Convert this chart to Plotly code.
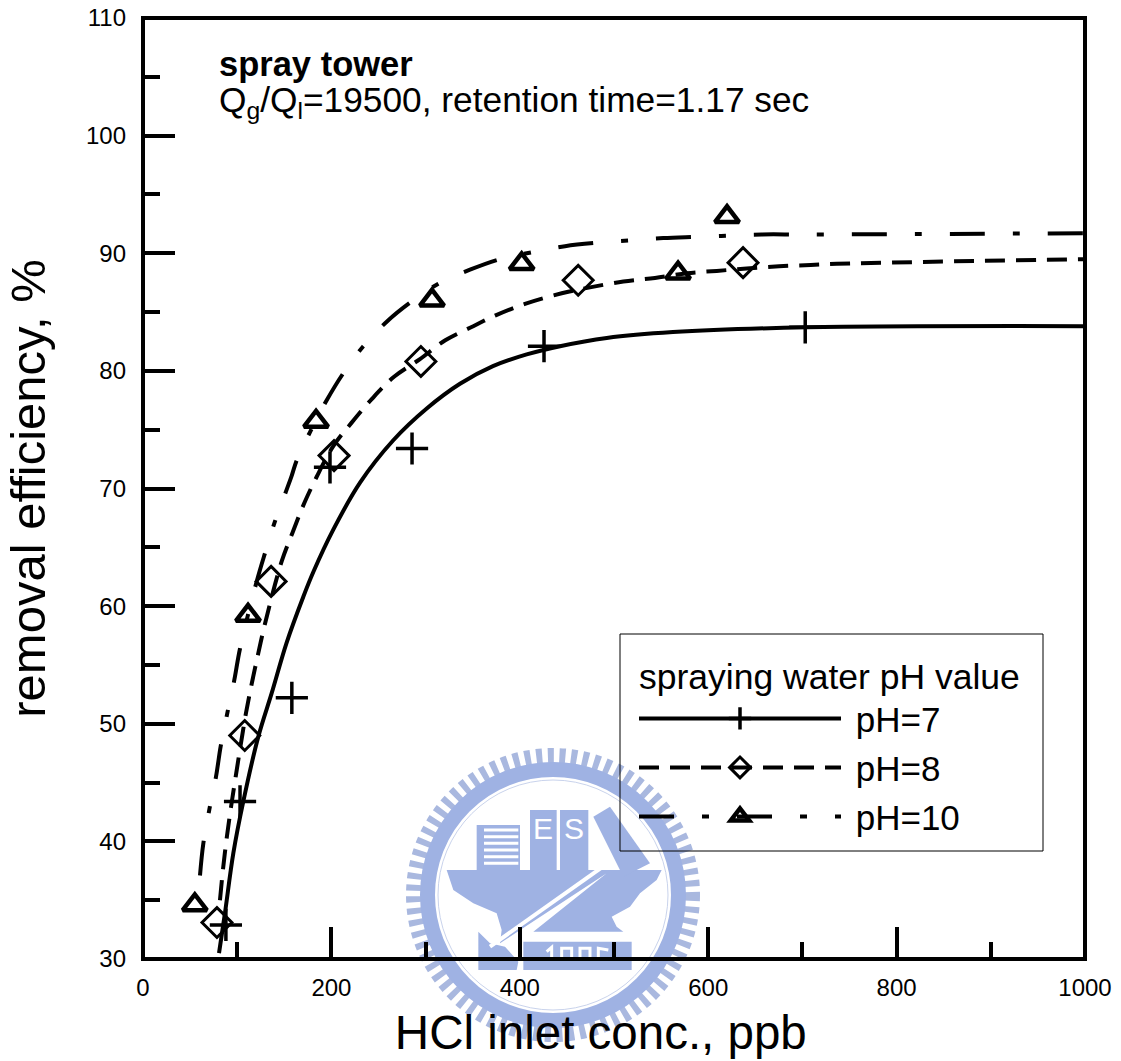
import plotly.graph_objects as go

# marker readings
ph7_x = [88, 103, 158, 198.5, 285.6, 425.7, 703]
ph7_y = [32.9, 43.4, 52.2, 71.8, 73.4, 82.1, 83.7]
ph8_x = [78.5, 108, 136, 202.8, 295, 462, 637]
ph8_y = [33.1, 49, 62.1, 72.8, 80.8, 87.7, 89.2]
ph10_x = [55, 111.5, 183.7, 306.8, 402, 568, 620]
ph10_y = [34.6, 59.2, 75.7, 86, 89.1, 88.3, 93.1]

# curves
c7_x = [80.7, 87, 95.9, 106.5, 122.4, 136.6, 152.5, 170.2, 180.8, 202, 230.4, 265.7, 301.2, 336.5, 371.5, 407.3, 442.7, 492.3, 562.6, 704.6, 1000]
c7_y = [30.5, 33.9, 39, 43.4, 48.9, 52.6, 56.9, 60.8, 62.9, 66.5, 70.5, 74.1, 76.8, 78.9, 80.4, 81.4, 82.1, 82.8, 83.3, 83.7, 83.8]
c8_x = [81.7, 84.9, 88.9, 93.4, 98.4, 103.7, 109.3, 115.4, 122.4, 129.5, 147.2, 158.5, 170.9, 184.4, 202, 221.5, 242.8, 266.5, 294, 320.9, 350.6, 373.7, 405.5, 444.5, 474.5, 509.9, 543.5, 577.2, 609, 640.9, 675.2, 708.8, 736.4, 1000]
c8_y = [35, 37.6, 40.3, 42.9, 45.5, 48.2, 50.9, 53.4, 56, 58.5, 63.8, 66.2, 68.7, 71, 73.6, 75.6, 77.6, 79.5, 81, 82.6, 83.8, 84.7, 85.7, 86.6, 87.1, 87.6, 87.9, 88.3, 88.5, 88.7, 88.9, 89, 89.1, 89.5]
c10_x = [60.5, 64, 70.4, 77.5, 82.5, 89.5, 96.9, 103, 120.7, 129.5, 140.1, 152.5, 157.9, 163.2, 177.3, 195, 212.6, 233.9, 259, 285.2, 313.5, 347.1, 379, 414.3, 448, 483.3, 517.7, 552.3, 587.8, 622.4, 656.8, 693.2, 727.5, 1000]
c10_y = [37.1, 39.8, 42.7, 45.5, 48.1, 50.9, 53.7, 56.4, 62.1, 64.5, 67.2, 69.9, 71.1, 72.4, 74.8, 77.5, 79.8, 82.1, 84.2, 85.9, 87.4, 88.6, 89.5, 90.1, 90.6, 90.9, 91.1, 91.3, 91.4, 91.5, 91.6, 91.6, 91.6, 91.7]

x_ticks = [0, 200, 400, 600, 800, 1000]
y_ticks = [30, 40, 50, 60, 70, 80, 90, 100, 110]

FONT = "Liberation Sans"
W, H = 1121, 1061
L, R, T, B = 143, 1085, 18, 959
SEAL = "#9FB2E3"


def gapped(v):
    out = []
    for a in v:
        out += [a, None]
    return out


def fx(p):
    return (p - L) / (R - L)


def fy(p):
    return (B - p) / (B - T)


def px(zx, zy):
    return fx(zx / 3 + 390), fy(zy / 3 + 730)


def poly(points, fill=SEAL, close=True, line=None, width=0):
    s = ""
    for i, (a, b) in enumerate(points):
        u, v = px(a, b)
        s += ("M" if i == 0 else "L") + f"{u:.5f},{v:.5f} "
    if close:
        s += "Z"
    return dict(type="path", xref="paper", yref="paper", path=s, layer="below",
                fillcolor=fill if close else "rgba(0,0,0,0)",
                line=dict(color=line or fill, width=width))


def ring(r, width, color, dash="solid"):
    return dict(type="circle", xref="paper", yref="paper", x0=fx(553 - r), x1=fx(553 + r),
                y0=fy(895 + r), y1=fy(895 - r), layer="below",
                line=dict(color=color, width=width, dash=dash))


shapes = [
    ring(139, 16, "#A9B8DF", "6px,5.6px"),
    ring(125.5, 15, SEAL),
    ring(115, 1, "#C9D3EC"),
    # hull
    poly([(170, 420), (815, 420), (800, 450), (750, 490), (720, 530), (665, 560), (680, 590), (700, 605),
          (430, 605), (650, 430), (330, 640), (335, 600), (320, 550), (250, 520), (190, 480)]),
    # lower block
    poly([(400, 635), (725, 635), (725, 720), (400, 720)]),
    poly([(265, 605), (300, 640), (345, 650), (385, 695), (380, 720), (265, 720)]),
    # buildings
    poly([(260, 285), (390, 285), (390, 420), (260, 420)]),
    poly([(420, 240), (500, 240), (500, 420), (420, 420)]),
    poly([(510, 240), (595, 240), (595, 420), (510, 420)]),
    poly([(610, 260), (660, 230), (780, 400), (700, 440)]),
    # diagonal white bar
    poly([(660, 395), (300, 650)], close=False, line="white", width=4),
]
for zy in (300, 320, 340, 360, 380, 400):
    shapes.append(poly([(282, zy), (385, zy)], close=False, line="white", width=3))
# tops of the seal's year digits, cut by the axis line
for seg in ([(470, 665), (485, 652), (485, 685)],
            [(515, 685), (515, 655), (545, 655), (545, 685)],
            [(570, 685), (570, 655), (600, 655), (600, 685)],
            [(655, 660), (625, 655), (625, 685)]):
    shapes.append(poly(seg, close=False, line="white", width=3))
# frame and legend box
shapes.append(dict(type="rect", xref="paper", yref="paper", x0=0, x1=1, y0=0, y1=1, layer="above",
                   line=dict(color="black", width=4)))
shapes.append(dict(type="rect", xref="paper", yref="paper", x0=fx(620), x1=fx(1043), y0=fy(851), y1=fy(634),
                   layer="above", line=dict(color="black", width=1)))

fig = go.Figure()
for cx, cy, dash in [(c7_x, c7_y, "solid"), (c8_x, c8_y, "20px,11px"), (c10_x, c10_y, "35px,28px,7px,28px")]:
    fig.add_trace(go.Scatter(x=cx, y=cy, mode="lines", showlegend=False, cliponaxis=True,
                             line=dict(color="black", width=4, dash=dash, shape="spline", smoothing=1)))

specs = [
    ("&nbsp;pH=7", ph7_x, ph7_y, "cross-thin", 23, 3.5, "solid"),
    ("&nbsp;pH=8", ph8_x, ph8_y, "diamond-open", 23, 3, "20px,11px"),
    ("&nbsp;pH=10", ph10_x, ph10_y, "triangle-up-open", 21, 4.5, "35px,28px,7px,28px"),
]
for name, mx, my, sym, size, lw, dash in specs:
    fig.add_trace(go.Scatter(
        x=gapped(mx), y=gapped(my), name=name, legendgroup=name, mode="lines+markers", cliponaxis=False,
        connectgaps=False,
        line=dict(color="black", width=4, dash=dash),
        marker=dict(symbol=sym, size=size, color="black", line=dict(color="black", width=lw)),
    ))

axis = dict(showline=False, ticks="inside", tickwidth=4, automargin=False,
            ticklen=32, tickcolor="black", showgrid=False, zeroline=False,
            tickfont=dict(family=FONT, size=24, color="black"))

fig.update_layout(
    width=W, height=H, margin=dict(l=L, r=W - R, t=T, b=H - B, pad=0),
    paper_bgcolor="white", plot_bgcolor="rgba(0,0,0,0)",
    font=dict(family=FONT, color="black"),
    shapes=shapes,
    xaxis=dict(axis, range=[0, 1000], tickvals=x_ticks, ticklabelstandoff=12,
               minor=dict(dtick=100, ticks="inside", ticklen=17, tickwidth=4, tickcolor="black", showgrid=False),
               title=dict(text="HCl inlet conc., ppb&nbsp;&nbsp;", font=dict(size=47.5), standoff=15)),
    yaxis=dict(axis, range=[30, 110], tickvals=y_ticks, ticklabelstandoff=16,
               minor=dict(dtick=5, ticks="inside", ticklen=17, tickwidth=4, tickcolor="black", showgrid=False),
               title=dict(text="removal efficiency, %", font=dict(size=49), standoff=24)),
    legend=dict(x=fx(620), y=fy(643), xanchor="left", yanchor="top",
                bgcolor="rgba(0,0,0,0)", borderwidth=0,
                itemwidth=202, indentation=14, font=dict(size=35), tracegroupgap=0.5, traceorder="grouped",
                title=dict(text="&nbsp;\u2009spraying water pH value", font=dict(size=35.5))),
    annotations=[
        dict(xref="paper", yref="paper", x=fx(217), y=fy(64), xanchor="left", yanchor="middle",
             showarrow=False, text="<b>spray tower</b>", font=dict(size=34.5)),
        dict(xref="paper", yref="paper", x=fx(217), y=fy(102), xanchor="left", yanchor="middle",
             showarrow=False, text="Q<sub>g</sub>/Q<sub>l</sub>=19500, retention time=1.17 sec", font=dict(size=35.3)),
        dict(xref="paper", yref="paper", x=px(460, 350)[0], y=px(460, 350)[1], showarrow=False, text="E",
             font=dict(size=30, color="white")),
        dict(xref="paper", yref="paper", x=px(552, 350)[0], y=px(552, 350)[1], showarrow=False, text="S",
             font=dict(size=30, color="white")),
    ],
)
fig.write_html("out.html", config={"displayModeBar": False},
               post_script="document.body.style.margin='0';document.documentElement.style.overflow='hidden';")
